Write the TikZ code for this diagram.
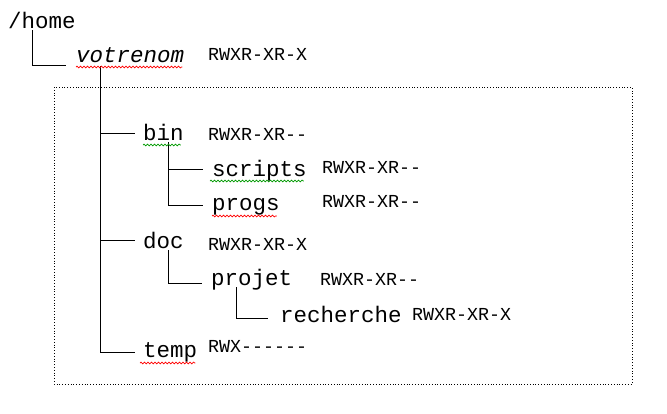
\documentclass[tikz,border=0pt]{standalone}
\usepackage{fontspec}
\setmainfont{Liberation Mono}
\usetikzlibrary{calc,decorations.pathmorphing}
\begin{document}
\begin{tikzpicture}[x=1pt,y=-1pt,
  big/.style={inner sep=0pt,anchor=base west,font=\fontsize{22.5}{24}\selectfont},
  perm/.style={inner sep=0pt,anchor=base west,font=\fontsize{18.3}{20}\selectfont},
  tree/.style={line width=1pt,black},
  squig/.style={decorate,decoration={snake,amplitude=0.9pt,segment length=3.5pt},line width=0.7pt},
  box/.style={dotted,line width=0.8pt}]
\useasboundingbox (0,0) rectangle (667,413);
\draw[box] (54,87) rectangle (632,384);
\node[big] (home) at (8,28) {/home};
\node[big] (vot) at (76,62) {\itshape votrenom};
\node[perm] (pvot) at (208,60) {RWXR-XR-X};
\node[big] (bin) at (143,140) {bin};
\node[perm] (pbin) at (208,140) {RWXR-XR-{}-};
\node[big] (scr) at (212,176) {scripts};
\node[perm] (pscr) at (322,173) {RWXR-XR-{}-};
\node[big] (prg) at (212,210) {progs};
\node[perm] (pprg) at (322,207) {RWXR-XR-{}-};
\node[big] (doc) at (143,248) {doc};
\node[perm] (pdoc) at (208,250) {RWXR-XR-X};
\node[big] (prj) at (211,285) {projet};
\node[perm] (pprj) at (320,285) {RWXR-XR-{}-};
\node[big] (rch) at (280,322) {recherche};
\node[perm] (prch) at (412,320) {RWXR-XR-X};
\node[big] (tmp) at (143,357) {temp};
\node[perm] (ptmp) at (208,352) {RWX-{}-{}-{}-{}-{}-};
% tree lines
\coordinate (h0) at (32,30);
\draw[tree] (h0) |- ($(vot.base west)+(-10,3)$);
\coordinate (v0) at (100,66);
\draw[tree] (v0) -- (100,352) -- ($(tmp.base west)+(-8,-5)$);
\draw[tree] (100,133) -- ($(bin.base west)+(-8,-7)$);
\draw[tree] (100,240) -- ($(doc.base west)+(-8,-8)$);
\coordinate (b0) at (168,142);
\draw[tree] (b0) -- (168,205) -- ($(prg.base west)+(-9,-5)$);
\draw[tree] (168,169) -- ($(scr.base west)+(-9,-7)$);
\coordinate (d0) at (168,250);
\draw[tree] (d0) |- ($(prj.base west)+(-9,-2)$);
\coordinate (p0) at (236,287);
\draw[tree] (p0) |- ($(rch.base west)+(-12,-4)$);
% spell-check squiggles
\draw[squig,red] ($(vot.base west)+(0,5)$) -- ($(vot.base east)+(-2,5)$);
\draw[squig,green!60!black] ($(bin.base west)+(0,5)$) -- ($(bin.base east)+(-3,5)$);
\draw[squig,green!60!black] ($(scr.base west)+(-2,5)$) -- ($(scr.base east)+(-3,5)$);
\draw[squig,red] ($(prg.base west)+(0,6)$) -- ($(prg.base east)+(-3,6)$);
\draw[squig,red] ($(tmp.base west)+(-3,6)$) -- ($(tmp.base east)+(-2,6)$);
\end{tikzpicture}
\end{document}
